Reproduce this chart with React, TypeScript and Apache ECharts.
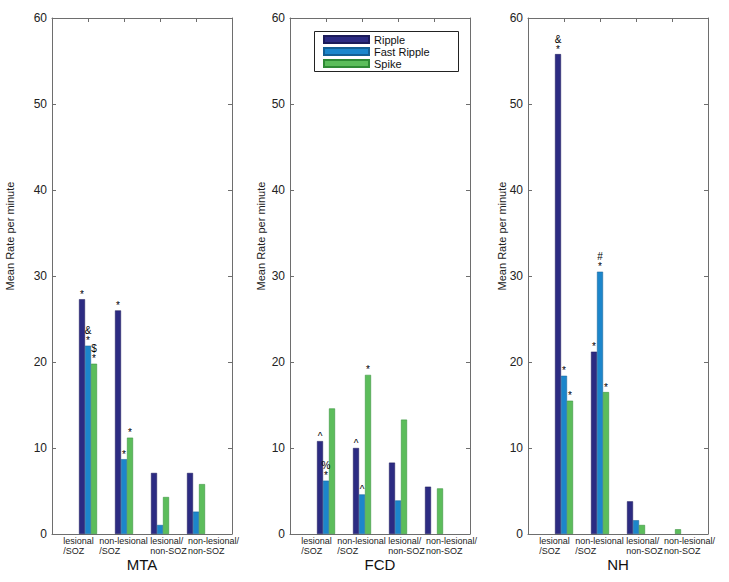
import React, { useEffect, useRef } from 'react';
import * as echarts from 'echarts';

const categories = ['lesional\n/SOZ', 'non-lesional\n/SOZ', 'lesional/\nnon-SOZ', 'non-lesional/\nnon-SOZ'];
const panelNames = ['MTA', 'FCD', 'NH'];
const seriesNames = ['Ripple', 'Fast Ripple', 'Spike'];
const yTicks = [0, 10, 20, 30, 40, 50, 60];

const mtaRipple = [27.3, 26.0, 7.1, 7.1];
const mtaFastRipple = [21.9, 8.7, 1.05, 2.6];
const mtaSpike = [19.8, 11.2, 4.3, 5.8];
const fcdRipple = [10.8, 10.0, 8.3, 5.5];
const fcdFastRipple = [6.2, 4.6, 3.9, 0];
const fcdSpike = [14.6, 18.5, 13.3, 5.3];
const nhRipple = [55.8, 21.2, 3.8, 0];
const nhFastRipple = [18.4, 30.5, 1.6, 0];
const nhSpike = [15.5, 16.5, 1.05, 0.55];

const mtaRippleMarks = ['*', '*', '', ''];
const mtaFastRippleMarks = ['&\n*', '*', '', ''];
const mtaSpikeMarks = ['$\n*', '*', '', ''];
const fcdRippleMarks = ['^', '^', '', ''];
const fcdFastRippleMarks = ['%\n*', '^', '', ''];
const fcdSpikeMarks = ['', '*', '', ''];
const nhRippleMarks = ['&\n*', '*', '', ''];
const nhFastRippleMarks = ['*', '#\n*', '', ''];
const nhSpikeMarks = ['*', '*', '', ''];

const panelValues = [
  [mtaRipple, mtaFastRipple, mtaSpike],
  [fcdRipple, fcdFastRipple, fcdSpike],
  [nhRipple, nhFastRipple, nhSpike],
];
const panelMarks = [
  [mtaRippleMarks, mtaFastRippleMarks, mtaSpikeMarks],
  [fcdRippleMarks, fcdFastRippleMarks, fcdSpikeMarks],
  [nhRippleMarks, nhFastRippleMarks, nhSpikeMarks],
];

const colors = ['#2c2b82', '#1c86cb', '#5cbd5b'];
const borderColors = ['#1c1b5a', '#145f94', '#2f8a35'];
const FONT = 'Liberation Sans, Arial, Helvetica, sans-serif';
const AXIS = '#6e6e6e';

const gridLefts = [52, 290, 528];
const titleXs = [10, 261, 502];

export default function App() {
  const ref = useRef<HTMLDivElement>(null);
  useEffect(() => {
    const chart = echarts.init(ref.current!, null, { renderer: 'svg' });
    const grids: any[] = [];
    const xAxes: any[] = [];
    const yAxes: any[] = [];
    const series: any[] = [];
    const graphics: any[] = [];
    panelNames.forEach((pname, i) => {
      grids.push({ left: gridLefts[i], top: 18, width: 180, height: 516 });
      xAxes.push({
        type: 'value', gridIndex: i, position: 'bottom', min: 0, max: categories.length + 1, interval: 1,
        name: pname, nameLocation: 'middle', nameGap: 23,
        nameTextStyle: { fontSize: 15, color: '#111', fontFamily: FONT },
        axisLine: { show: true, onZero: false, lineStyle: { color: AXIS } },
        axisTick: { show: false },
        splitLine: { show: false },
        axisLabel: { show: false },
      });
      xAxes.push({
        type: 'value', gridIndex: i, position: 'top', min: 0, max: categories.length + 1, interval: 1,
        axisLine: { show: true, onZero: false, lineStyle: { color: AXIS } },
        axisTick: { show: true, inside: true, length: 4, lineStyle: { color: AXIS } },
        splitLine: { show: false }, axisLabel: { show: false },
      });
      xAxes.push({
        type: 'category', gridIndex: i, position: 'bottom', data: categories,
        axisLine: { show: false, onZero: false }, axisTick: { show: false }, splitLine: { show: false },
        axisLabel: {
          show: true, interval: 0, margin: 2, color: '#222', fontFamily: FONT, fontSize: 9, lineHeight: 10,
          padding: [0, 0, 0, 8],
          formatter: (v: string) => v.split('\n').map((l) => `{l|${l}}`).join('\n'),
          rich: { l: { align: 'left', fontSize: 9, lineHeight: 10, color: '#222', fontFamily: FONT } },
        },
      });
      yAxes.push({
        type: 'value', gridIndex: i, position: 'left', min: yTicks[0], max: yTicks[yTicks.length - 1], interval: 10,
        axisLine: { show: true, onZero: false, lineStyle: { color: AXIS } },
        axisTick: { show: true, inside: true, length: 4, lineStyle: { color: AXIS } },
        splitLine: { show: false },
        axisLabel: { fontSize: 12, color: '#222', margin: 5, fontFamily: FONT },
      });
      yAxes.push({
        type: 'value', gridIndex: i, position: 'right', min: yTicks[0], max: yTicks[yTicks.length - 1], interval: 10,
        axisLine: { show: true, onZero: false, lineStyle: { color: AXIS } },
        axisTick: { show: true, inside: true, length: 4, lineStyle: { color: AXIS } },
        splitLine: { show: false }, axisLabel: { show: false },
      });
      seriesNames.forEach((sname, s) => {
        const vals = panelValues[i][s];
        const marks = panelMarks[i][s];
        series.push({
          type: 'bar', name: sname, xAxisIndex: 3 * i, yAxisIndex: 2 * i,
          barWidth: 6, barGap: '0%',
          itemStyle: { color: colors[s], borderColor: borderColors[s], borderWidth: 0.5 },
          label: {
            show: true, position: 'top', distance: 0, fontSize: 10, lineHeight: 10,
            color: '#000', fontFamily: FONT,
            formatter: (p: any) => marks[p.dataIndex] || '',
          },
          data: vals.map((v, k) => (v === 0
            ? { value: [k + 1, v], itemStyle: { borderWidth: 0 } }
            : [k + 1, v])),
        });
      });
      graphics.push({
        type: 'text', x: titleXs[i], y: 236, rotation: Math.PI / 2,
        style: { text: 'Mean Rate per minute', fontSize: 11, fill: '#222', fontFamily: FONT, align: 'center', verticalAlign: 'middle' },
      });
    });
    graphics.push({
      type: 'rect', shape: { x: 314.5, y: 31.5, width: 144, height: 40 },
      style: { fill: 'transparent', stroke: '#222', lineWidth: 1 }, z: 10,
    });
    chart.setOption({
      animation: false,
      textStyle: { fontFamily: FONT },
      grid: grids,
      xAxis: xAxes,
      yAxis: yAxes,
      series,
      graphic: graphics,
      legend: {
        data: seriesNames, orient: 'vertical', left: 323, top: 34,
        icon: 'rect', itemWidth: 45, itemHeight: 7, itemGap: 1,
        padding: 0,
        textStyle: { fontSize: 11, color: '#111', fontFamily: FONT },
      },
    });
    return () => chart.dispose();
  }, []);
  return <div ref={ref} style={{ position: 'fixed', left: 0, top: 0, width: 729, height: 582, background: '#fff' }} />;
}
